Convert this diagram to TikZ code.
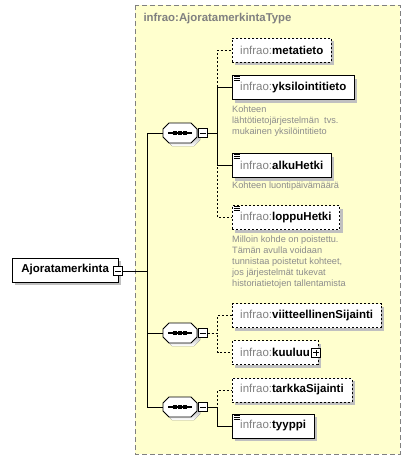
\documentclass[tikz,border=0pt]{standalone}
\usepackage{fontspec}
\setmainfont{Liberation Sans}
\definecolor{typefill}{RGB}{255,255,206}
\definecolor{shade}{RGB}{192,192,192}
\definecolor{nsgray}{RGB}{128,128,128}
\definecolor{docgray}{RGB}{140,140,140}
\newcommand\qname[1]{{\color{nsgray}infrao:}\textbf{#1}}
\newcommand\doclines[1]{%
  \foreach \dy in {1.5,3.5,5.5}
    \draw[line width=0.9] ([shift={(2,\dy)}]#1.north west) -- ++(6,0);}
\newcommand\seqoutline{(-17,-4) -- (-11,-10) -- (11,-10) -- (17,-4) -- (17,4) -- (11,10) -- (-11,10) -- (-17,4) -- cycle}
\newcommand\seqshape[1]{%
  \begin{scope}[shift={(#1.center)}]
    \fill[shade, shift={(3,3)}] \seqoutline;
    \filldraw[fill=white, line width=0.9] \seqoutline;
    \draw[line width=1.2] (-12,0) -- (12,0);
    \foreach \dx in {-5,0,5}
      \fill (\dx-1.6,-1.6) rectangle ++(3.2,3.2);
  \end{scope}}
\begin{document}
\begin{tikzpicture}
      [x=1pt,y=-1pt,
      every node/.style={font=\fontsize{11.5}{13}\selectfont},
      shadowed/.style={preaction={fill=shade,draw=none,transform canvas={shift={(3,3)}}}},
      elem/.style={draw, fill=white, anchor=west, minimum height=24, inner xsep=8, inner ysep=0, shadowed},
      opt/.style={elem, dash pattern=on 2pt off 2pt},
      seq/.style={minimum width=34, minimum height=20, inner sep=0},
      minusbox/.style={draw, fill=white, minimum size=9, inner sep=0,
        path picture={\draw ([xshift=-3]path picture bounding box.center) -- ([xshift=3]path picture bounding box.center);}},
      plusbox/.style={draw, fill=white, minimum size=9, inner sep=0,
        path picture={\draw ([xshift=-3]path picture bounding box.center) -- ([xshift=3]path picture bounding box.center);
          \draw ([yshift=-3]path picture bounding box.center) -- ([yshift=3]path picture bounding box.center);}},
      doc/.style={anchor=north west, inner sep=0, align=left, text=docgray,
        font=\fontsize{9.2}{10.8}\selectfont},
      link/.style={line width=0.8},
      optlink/.style={link, dash pattern=on 2pt off 2pt},
      ]
      \useasboundingbox (0,0) rectangle (411,460);
      \fill[white] (0,0) rectangle (411,460);
      % complex type frame
      \draw[fill=typefill, draw=nsgray, dash pattern=on 5pt off 3pt] (135,5) rectangle (400,454);
      \node[anchor=west, text=nsgray, font=\fontsize{11.4}{13}\selectfont\bfseries] (typename) at (140,19) {infrao:AjoratamerkintaType};
      % root element
      \node[elem, minimum width=106] (root) at (12,270) {\textbf{Ajoratamerkinta}};
      \node[minusbox] (rootm) at (118,271) {};
      % sequences
      \node[seq] (seq1) at (180,133) {};
      \node[seq] (seq2) at (180,333) {};
      \node[seq] (seq3) at (180,407) {};
      \seqshape{seq1}
      \seqshape{seq2}
      \seqshape{seq3}
      \node[minusbox, anchor=west] (m1) at ([xshift=1]seq1.east) {};
      \node[minusbox, anchor=west] (m2) at ([xshift=1]seq2.east) {};
      \node[minusbox, anchor=west] (m3) at ([xshift=1]seq3.east) {};
      % child elements
      \node[opt]  (metatieto) at (232,50) {\qname{metatieto}};
      \node[elem] (yksilointitieto) at (232,87.5) {\qname{yksilointitieto}};
      \node[elem] (alkuHetki) at (232,165.5) {\qname{alkuHetki}};
      \node[opt]  (loppuHetki) at (232,217.5) {\qname{loppuHetki}};
      \node[opt]  (viitteellinenSijainti) at (232,315.5) {\qname{viitteellinenSijainti}};
      \node[opt]  (kuuluu) at (232,352.5) {\qname{kuuluu}\hspace{9pt}};
      \node[plusbox] (kuuluup) at ([xshift=-2]kuuluu.east) {};
      \node[opt]  (tarkkaSijainti) at (232,390) {\qname{tarkkaSijainti}};
      \node[elem] (tyyppi) at (232,426) {\qname{tyyppi}};
      \doclines{yksilointitieto}
      \doclines{alkuHetki}
      \doclines{loppuHetki}
      \doclines{tyyppi}
      % annotations
      \node[doc] (yksilointidoc) at (232,106) {Kohteen\\lähtötietojärjestelmän~ tvs.\\mukainen yksilöintitieto};
      \node[doc] (alkudoc) at (232,182) {Kohteen luontipäivämäärä};
      \node[doc] (loppudoc) at (232,236) {Milloin kohde on poistettu.\\Tämän avulla voidaan\\tunnistaa poistetut kohteet,\\jos järjestelmät tukevat\\historiatietojen tallentamista};
      % connectors
      \draw[link] (rootm.east) -- ++(25,0) |- (seq1.west);
      \draw[link] (rootm.east) -- ++(25,0) |- (seq2.west);
      \draw[link] (rootm.east) -- ++(25,0) |- (seq3.west);
      \draw[optlink] (m1.east) -- ++(10,0) |- (metatieto.west);
      \draw[optlink] (m1.east) -- ++(10,0) |- (loppuHetki.west);
      \draw[link] (m1.east) -- ++(10,0) |- (yksilointitieto.west);
      \draw[link] (m1.east) -- ++(10,0) |- (alkuHetki.west);
      \draw[optlink] (m2.east) -- ++(10,0) |- (viitteellinenSijainti.west);
      \draw[optlink] (m2.east) -- ++(10,0) |- (kuuluu.west);
      \draw[optlink] (m3.east) -- ++(10,0) |- (tarkkaSijainti.west);
      \draw[link] (m3.east) -- ++(10,0) |- (tyyppi.west);
      \end{tikzpicture}
\end{document}
